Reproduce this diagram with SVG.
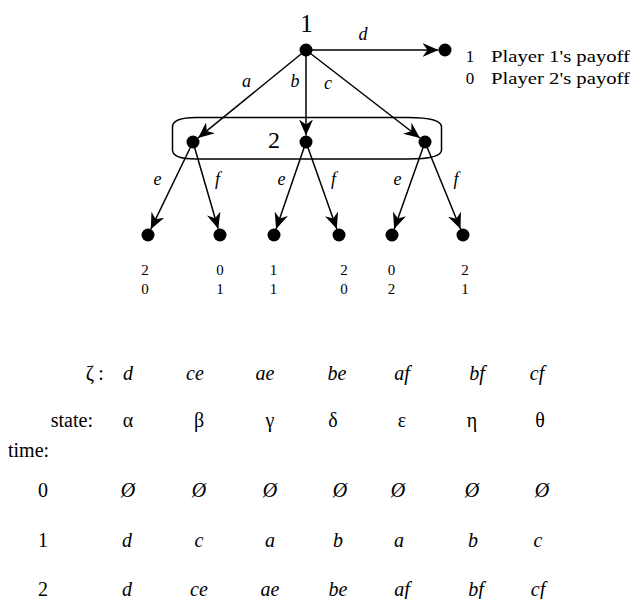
<svg xmlns="http://www.w3.org/2000/svg" width="632" height="599" viewBox="0 0 632 599" font-family="'Liberation Serif', 'DejaVu Serif', serif">
  <style>
    .edge { stroke: #000; stroke-width: 1.5; fill: none; }
    .node { fill: #000; }
    text { fill: #000; }
    .it { font-style: italic; }
    .lbl { font-size: 18px; text-anchor: middle; }
    .pay { font-size: 15px; text-anchor: middle; }
    .tab { font-size: 20px; text-anchor: middle; }
  </style>
  <defs>
    <marker id="arrow" markerUnits="userSpaceOnUse" viewBox="0 0 16 14" refX="16" refY="7" markerWidth="16" markerHeight="14" orient="auto">
      <path d="M0,0 L16,7 L0,14 L5,7 Z" fill="#000"/>
    </marker>
  </defs>

  <!-- connectors -->
  <g id="connectors">
    <line class="edge" x1="306" y1="50" x2="438.5" y2="50" marker-end="url(#arrow)"/>
    <line class="edge" x1="306" y1="50" x2="198.1" y2="137.9" marker-end="url(#arrow)"/>
    <line class="edge" x1="306" y1="50" x2="306" y2="135.5" marker-end="url(#arrow)"/>
    <line class="edge" x1="306" y1="50" x2="419.9" y2="138" marker-end="url(#arrow)"/>
    <line class="edge" x1="193" y1="142" x2="150.8" y2="229.2" marker-end="url(#arrow)"/>
    <line class="edge" x1="193" y1="142" x2="218.2" y2="228.8" marker-end="url(#arrow)"/>
    <line class="edge" x1="306" y1="142" x2="276.1" y2="228.9" marker-end="url(#arrow)"/>
    <line class="edge" x1="306" y1="142" x2="336.8" y2="228.9" marker-end="url(#arrow)"/>
    <line class="edge" x1="425" y1="142" x2="394.2" y2="228.9" marker-end="url(#arrow)"/>
    <line class="edge" x1="425" y1="142" x2="460.5" y2="229" marker-end="url(#arrow)"/>
    <!-- action labels -->
    <g font-family="'Liberation Serif', 'DejaVu Serif', serif" font-style="italic" font-size="18" text-anchor="middle">
      <text x="363" y="40">d</text>
      <text x="246.5" y="87">a</text>
      <text x="295" y="87">b</text>
      <text x="328" y="89">c</text>
      <text x="157.5" y="185">e</text>
      <text x="217.5" y="185">f</text>
      <text x="281.5" y="185">e</text>
      <text x="333.5" y="185">f</text>
      <text x="397.5" y="185">e</text>
      <text x="456" y="185">f</text>
    </g>
  </g>

  <!-- player 1 decision node -->
  <g id="root">
    <circle class="node" cx="306" cy="50" r="6.5"/>
    <text x="306.5" y="31.5" font-size="25" text-anchor="middle" font-family="'Liberation Serif', serif">1</text>
  </g>

  <!-- terminal after d -->
  <g id="leaf-d" font-family="'Liberation Serif', 'DejaVu Serif', serif" font-size="17">
    <circle class="node" cx="445" cy="50" r="6.5"/>
    <text x="470" y="62" text-anchor="middle">1</text>
    <text x="491" y="62" textLength="139" lengthAdjust="spacingAndGlyphs">Player 1's payoff</text>
    <text x="470" y="84" text-anchor="middle">0</text>
    <text x="491" y="84" textLength="139" lengthAdjust="spacingAndGlyphs">Player 2's payoff</text>
  </g>

  <!-- player 2 information set -->
  <g id="infoset">
    <path class="edge" d="M196,117.5 H408 Q441.5,117.5 441.5,127 V150 Q441.5,159 408,159 H196 Q172.5,159 172.5,150 V127 Q172.5,117.5 196,117.5 Z"/>
    <text x="274" y="148" font-size="24" text-anchor="middle" font-family="'Liberation Serif', serif">2</text>
  </g>
  <g id="n2a"><circle class="node" cx="193" cy="142" r="6.5"/></g>
  <g id="n2b"><circle class="node" cx="306" cy="142" r="6.5"/></g>
  <g id="n2c"><circle class="node" cx="425" cy="142" r="6.5"/></g>

  <!-- terminal nodes with payoffs -->
  <g font-family="'Liberation Serif', 'DejaVu Serif', serif" font-size="15" text-anchor="middle">
    <g id="leaf-ae">
      <circle class="node" cx="148" cy="235" r="6.5"/>
      <text x="145" y="275">2</text><text x="145" y="294">0</text>
    </g>
    <g id="leaf-af">
      <circle class="node" cx="220" cy="235" r="6.5"/>
      <text x="220" y="275">0</text><text x="220" y="294">1</text>
    </g>
    <g id="leaf-be">
      <circle class="node" cx="274" cy="235" r="6.5"/>
      <text x="273.5" y="275">1</text><text x="273.5" y="294">1</text>
    </g>
    <g id="leaf-bf">
      <circle class="node" cx="339" cy="235" r="6.5"/>
      <text x="344" y="275">2</text><text x="344" y="294">0</text>
    </g>
    <g id="leaf-ce">
      <circle class="node" cx="392" cy="235" r="6.5"/>
      <text x="391.5" y="275">0</text><text x="391.5" y="294">2</text>
    </g>
    <g id="leaf-cf">
      <circle class="node" cx="463" cy="235" r="6.5"/>
      <text x="465" y="275">2</text><text x="465" y="294">1</text>
    </g>
  </g>

  <!-- histories table -->
  <g id="table" font-family="'Liberation Serif', 'DejaVu Serif', serif" font-size="20" text-anchor="middle">
    <text x="90" y="380">ζ</text>
    <text x="101" y="380">:</text>
    <g font-style="italic">
      <text x="128" y="380">d</text>
      <text x="195" y="380">ce</text>
      <text x="265" y="380">ae</text>
      <text x="337" y="380">be</text>
      <text x="402" y="380">af</text>
      <text x="477" y="380">bf</text>
      <text x="537" y="380">cf</text>
    </g>

    <text x="93" y="427" text-anchor="end">state:</text>
    <text x="128" y="427">α</text>
    <text x="199" y="427">β</text>
    <text x="270" y="427">γ</text>
    <text x="333" y="427">δ</text>
    <text x="402" y="427">ε</text>
    <text x="472" y="427">η</text>
    <text x="540" y="427">θ</text>

    <text x="8" y="457" text-anchor="start">time:</text>

    <text x="43" y="497">0</text>
    <text x="43" y="547">1</text>
    <text x="43" y="596">2</text>
    <g font-style="italic">
      <text x="128" y="497">Ø</text>
      <text x="199" y="497">Ø</text>
      <text x="270" y="497">Ø</text>
      <text x="340" y="497">Ø</text>
      <text x="398" y="497">Ø</text>
      <text x="472" y="497">Ø</text>
      <text x="542" y="497">Ø</text>

      <text x="127" y="547">d</text>
      <text x="199" y="547">c</text>
      <text x="270" y="547">a</text>
      <text x="338" y="547">b</text>
      <text x="399" y="547">a</text>
      <text x="473" y="547">b</text>
      <text x="538" y="547">c</text>

      <text x="127" y="596">d</text>
      <text x="199" y="596">ce</text>
      <text x="270" y="596">ae</text>
      <text x="338" y="596">be</text>
      <text x="402" y="596">af</text>
      <text x="476" y="596">bf</text>
      <text x="538" y="596">cf</text>
    </g>
  </g>
</svg>
